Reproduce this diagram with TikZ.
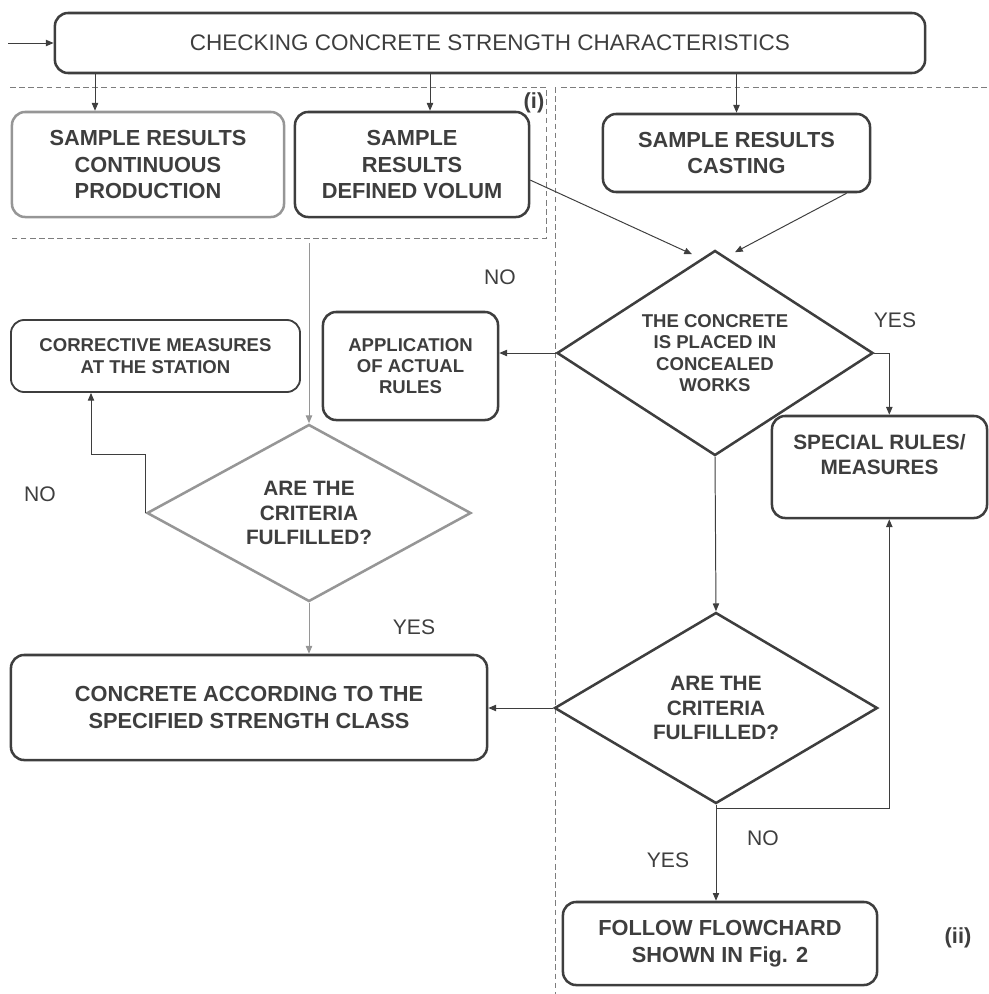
\documentclass[tikz,border=0pt]{standalone}
\usepackage{fontspec}
\setmainfont{Liberation Sans}
\usetikzlibrary{arrows.meta}
\usetikzlibrary{shapes.geometric}
\tikzset{>={Triangle[length=5.5pt,width=4.5pt]}}
\definecolor{chartink}{RGB}{62,62,62}
\definecolor{chartpale}{RGB}{150,150,150}
\definecolor{chartdash}{RGB}{125,125,125}
\newcommand{\chartbig}{\fontsize{15.5}{19}\selectfont\bfseries}
\newcommand{\chartmid}{\fontsize{14.8}{17.5}\selectfont\bfseries}
\newcommand{\chartsmall}{\fontsize{13.2}{15.2}\selectfont\bfseries}
\tikzstyle{flowbox}=[draw=chartink,line width=1.8pt,rounded corners=0.33cm,text=chartink,align=center,inner sep=0pt]
\tikzstyle{flowdiam}=[draw=chartink,line width=1.8pt,diamond,text=chartink,align=center,inner sep=0pt]
\tikzstyle{flowline}=[draw=chartink,line width=0.7pt]
\tikzstyle{paleline}=[draw=chartpale,line width=0.7pt]
\tikzstyle{groupline}=[draw=chartdash,line width=0.6pt,dash pattern=on 4pt off 2.5pt]
\tikzstyle{answer}=[text=chartink,font=\fontsize{15}{18}\selectfont,inner sep=0pt]

\begin{document}
\begin{tikzpicture}[x=0.025cm,y=-0.025cm]
    \useasboundingbox (0,0) rectangle (988,994);

    % groups (i) and (ii)
    \draw[groupline] (10,87) -- (546,87) -- (546,238) -- (10,238);
    \draw[groupline] (555,87) -- (555,994);
    \draw[groupline] (561,87) -- (988,87);
    \node[text=chartink,font=\chartbig,inner sep=0pt] (tagi) at (534,103) {(i)};
    \node[text=chartink,font=\chartbig,inner sep=0pt] (tagii) at (958,938) {(ii)};

    \node[flowbox,font=\fontsize{16}{19}\selectfont,minimum width=21.75cm,minimum height=1.5cm] (check) at (490,43) {CHECKING CONCRETE STRENGTH CHARACTERISTICS};

    \node[flowbox,draw=chartpale,font=\chartbig,minimum width=6.8cm,minimum height=2.625cm] (srcp) at (148,164.5) {SAMPLE RESULTS\\CONTINUOUS\\PRODUCTION};
    \node[flowbox,font=\chartbig,minimum width=5.85cm,minimum height=2.625cm] (srdv) at (412,164.5) {SAMPLE\\RESULTS\\DEFINED VOLUM};
    \node[flowbox,font=\chartbig,minimum width=6.675cm,minimum height=1.95cm] (src) at (736.5,153) {SAMPLE RESULTS\\CASTING};

    \node[flowdiam,font=\chartsmall,aspect=1.54,minimum width=7.9cm,minimum height=5.125cm] (placed) at (715,353) {THE CONCRETE\\IS PLACED IN\\CONCEALED\\WORKS};
    \node[flowbox,font=\chartsmall,minimum width=4.375cm,minimum height=2.7cm] (appl) at (410.5,366) {APPLICATION\\OF ACTUAL\\RULES};
    \node[flowbox,line width=1.3pt,font=\chartsmall,minimum width=7.225cm,minimum height=1.8cm] (corr) at (155.5,356) {CORRECTIVE MEASURES\\AT THE STATION};
    \node[flowbox,font=\chartmid,minimum width=5.375cm,minimum height=2.55cm] (spec) at (879.5,467) {SPECIAL RULES/\\MEASURES\\\mbox{}};

    \node[flowdiam,draw=chartpale,font=\chartmid,aspect=1.83,minimum width=8.1cm,minimum height=4.425cm] (critA) at (309,513) {ARE THE\\CRITERIA\\FULFILLED?};
    \node[flowdiam,font=\chartmid,aspect=1.69,minimum width=8.075cm,minimum height=4.775cm] (critB) at (716,708) {ARE THE\\CRITERIA\\FULFILLED?};

    \node[flowbox,font=\chartbig,minimum width=11.9cm,minimum height=2.625cm] (conc) at (249,707.5) {CONCRETE ACCORDING TO THE\\SPECIFIED STRENGTH CLASS};
    \node[flowbox,font=\chartbig,minimum width=7.85cm,minimum height=2.075cm] (follow) at (720,943.5) {FOLLOW FLOWCHARD\\SHOWN IN Fig. 2};

    \node[answer] (noA) at (500,277) {NO};
    \node[answer] (yesA) at (895,320) {YES};
    \node[answer] (noB) at (40,494) {NO};
    \node[answer] (yesB) at (414,627) {YES};
    \node[answer] (noC) at (763,838) {NO};
    \node[answer] (yesC) at (668,860) {YES};

    % connectors
    \coordinate (entry) at (8,43);
    \coordinate (colA) at (95,0);
    \coordinate (colB) at (430,0);
    \coordinate (colC) at (91,0);
    \coordinate (grp) at (309,243);
    \draw[->,flowline] (entry) -- (check.west);
    \draw[->,flowline] (check.south -| colA) -- (srcp.north -| colA);
    \draw[->,flowline] (check.south -| colB) -- (srdv.north -| colB);
    \draw[->,flowline] (check.south -| src.north) -- (src.north);
    \draw[->,flowline] ([yshift=-0.39cm]srdv.east) -- ([xshift=-0.575cm,yshift=-0.125cm]placed.north);
    \draw[->,flowline] ([xshift=2.75cm]src.south) -- ([xshift=0.5cm,yshift=-0.075cm]placed.north);
    \draw[->,flowline] (placed.west) -- (placed.west -| appl.east);
    \draw[->,flowline] (placed.east) -- ++(15,0) coordinate (yesturn) -- (yesturn |- spec.north);
    \draw[->,flowline] (placed.south) -- (critB.north);
    \draw[->,paleline] (grp) -- (critA.north);
    \draw[->,flowline] (critA.west) -- ++(0,-59) -| (corr.south -| colC);
    \draw[->,paleline] (critA.south) -- (critA.south |- conc.north);
    \draw[->,flowline] (critB.west) -- (critB.west -| conc.east);
    \draw[->,flowline] (critB.south) -- (critB.south |- follow.north);
    \draw[->,flowline] (critB.south) -- ++(0,4) -| (yesturn |- spec.south);
\end{tikzpicture}
\end{document}
